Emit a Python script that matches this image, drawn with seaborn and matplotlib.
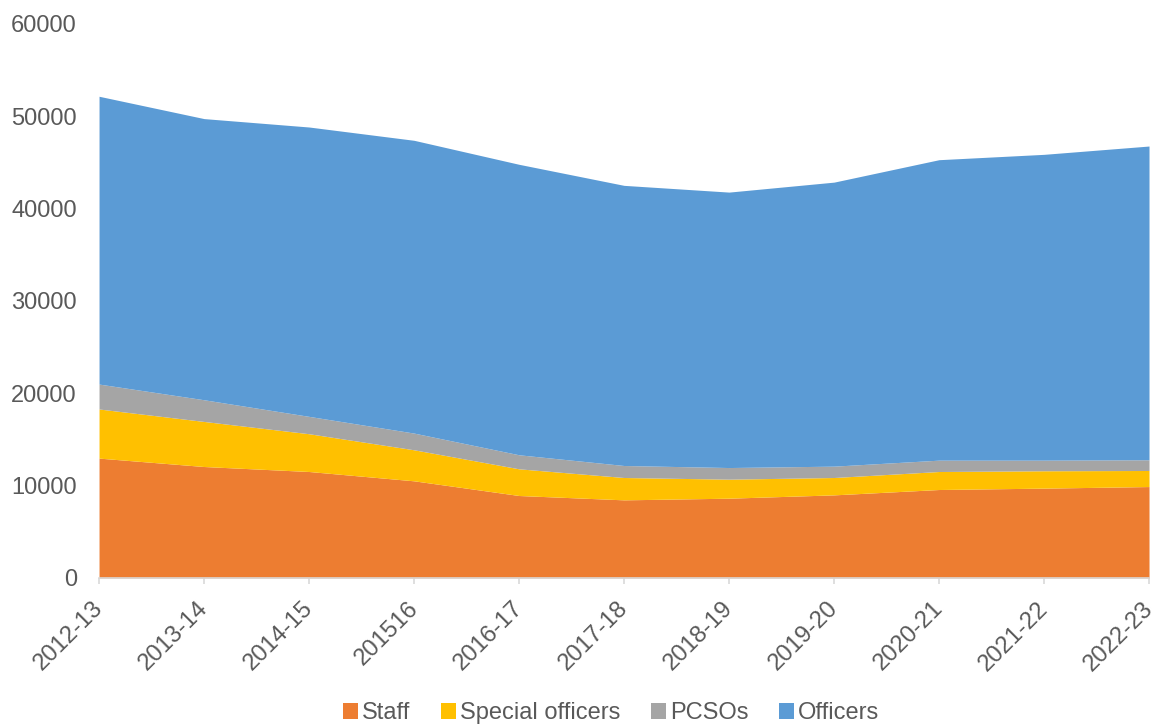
import numpy as np
import matplotlib.pyplot as plt
import matplotlib.transforms as mtransforms
import seaborn as sns
from matplotlib.patches import Patch

# Data
years = ['2012-13', '2013-14', '2014-15', '201516', '2016-17', '2017-18',
         '2018-19', '2019-20', '2020-21', '2021-22', '2022-23']
staff = [12980, 12070, 11530, 10520, 8930, 8460, 8640, 9000, 9580, 9730, 9900]
special = [5320, 4880, 4090, 3360, 2890, 2420, 2060, 1880, 1950, 1880, 1740]
pcsos = [2700, 2350, 1880, 1810, 1520, 1300, 1260, 1230, 1230, 1150, 1160]
officers = [31170, 30450, 31340, 31710, 31460, 30340, 29830, 30760, 32540, 33120, 33980]

labels = ['Staff', 'Special officers', 'PCSOs', 'Officers']
colors = ['#ED7D31', '#FFC000', '#A5A5A5', '#5B9BD5']

sns.set_style('white')
plt.rcParams['font.family'] = ['Liberation Sans', 'DejaVu Sans']

fig = plt.figure(figsize=(11.57, 7.24), dpi=100)
ax = fig.add_axes([0.0856, 0.2017, 0.9075, 0.7652])

x = np.arange(len(years))
ax.stackplot(x, staff, special, pcsos, officers, colors=colors, linewidth=0)

ax.set_xlim(0, len(years) - 1)
ax.set_ylim(0, 60000)
ax.set_yticks(range(0, 60001, 10000))
ax.set_xticks(x)
ax.set_xticklabels(years, rotation=45, ha='right', rotation_mode='anchor')

ax.tick_params(axis='y', length=0, pad=16, labelsize=17, labelcolor='#595959')
ax.tick_params(axis='x', length=4, width=1.2, color='#D9D9D9', direction='out',
               pad=10, labelsize=17.2, labelcolor='#595959', bottom=True)

# nudge the rotated labels left so they end at the tick, like the original
shift = mtransforms.ScaledTranslation(-7 / 100, 0, fig.dpi_scale_trans)
for lbl in ax.get_xticklabels():
    lbl.set_transform(lbl.get_transform() + shift)

for side in ['top', 'right', 'left']:
    ax.spines[side].set_visible(False)
ax.spines['bottom'].set_color('#D9D9D9')
ax.spines['bottom'].set_linewidth(1.2)

handles = [Patch(facecolor=c, edgecolor='none') for c in colors]
fig.legend(handles, labels, loc='lower center', bbox_to_anchor=(0.528, -0.03),
           ncol=4, frameon=False, fontsize=17, handlelength=0.65, handleheight=0.65,
           handletextpad=0.15, columnspacing=1.3, labelcolor='#595959')

fig.savefig('out.png', dpi=100)
